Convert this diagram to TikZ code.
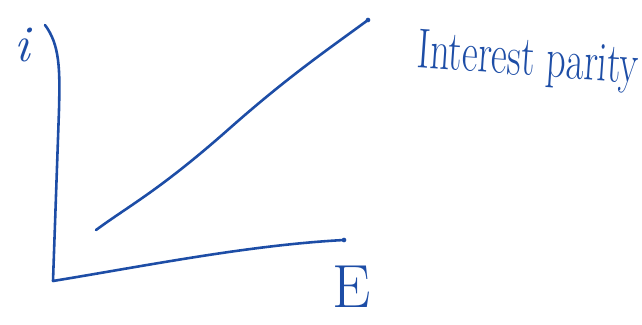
\documentclass[tikz,border=0pt]{standalone}
\usepackage{tikz}
\usetikzlibrary{positioning}
\definecolor{InkBlue}{HTML}{1D4DA6}
\tikzset{
  pen/.style={draw=InkBlue, line width=2.2pt, line cap=round, line join=round},
  axislabel/.style={text=InkBlue, inner sep=0pt, font=\itshape},
  curvelabel/.style={text=InkBlue, inner sep=0pt, font=\fontsize{30}{34}\selectfont}
}

\begin{document}
\begin{tikzpicture}[x=0.03cm, y=-0.03cm]
  \useasboundingbox (0,0) rectangle (642,324);
  % axes
  \coordinate (ytop) at (45,25);
  \coordinate (origin) at (53,281);
  \coordinate (xend) at (344,240);
  \draw[pen] (ytop) .. controls (60,45) and (60,70) .. (59,110)
    -- (origin) .. controls (150,265) and (250,245) .. (xend);
  \fill[InkBlue] (xend) circle (2pt);
  % interest parity line
  \coordinate (lstart) at (96,230);
  \coordinate (lend) at (368,20);
  \draw[pen] (lstart) .. controls (130,205) and (160,190) .. (230,128)
    .. controls (290,75) and (330,48) .. (lend);
  \fill[InkBlue] (lend) circle (2pt);
  % labels
  \node[axislabel, font=\fontsize{44}{48}\selectfont\itshape] (ilabel) at (22,45) {i};
  \node[axislabel, font=\fontsize{52}{56}\selectfont] (elabel) at (352,287) {E};
  \node[curvelabel, rotate=-4, xscale=1.1, yscale=1.6] (parity) at (528,62) {Interest parity};
\end{tikzpicture}
\end{document}
